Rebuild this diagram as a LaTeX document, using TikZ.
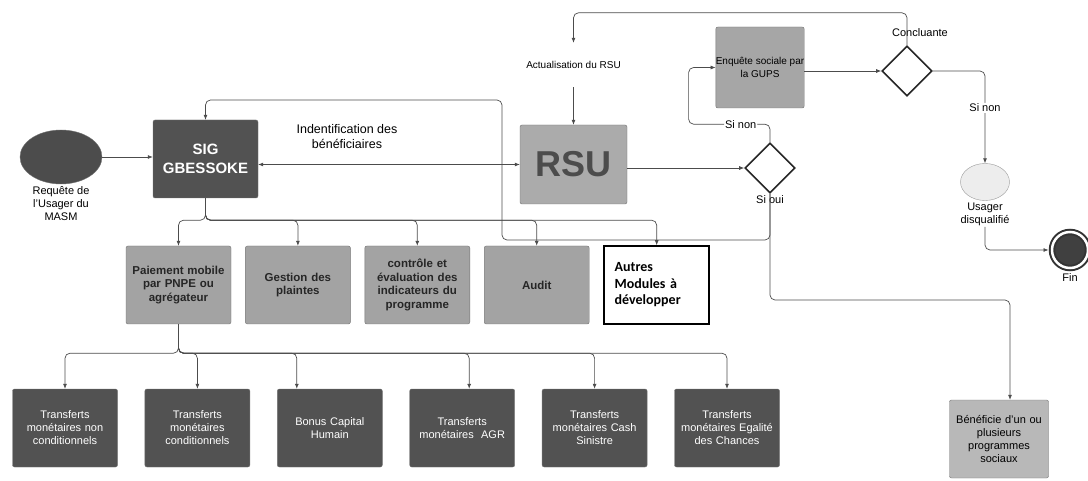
\documentclass[tikz,border=0pt]{standalone}
\usepackage{fontspec}
\setmainfont{Liberation Sans}
\newfontfamily\calibri{Carlito}
\usepackage{tikz}
\usetikzlibrary{shapes.geometric, arrows.meta, positioning, calc}

\begin{document}
\begin{tikzpicture}[
    x=1pt, y=1pt,
    node distance=14pt,
    every node/.style={font=\fontsize{11}{13}\selectfont},
    box/.style={rectangle, draw=black!55, rounded corners=2pt, minimum width=105pt, minimum height=78pt, align=center, inner sep=2pt},
    darkbox/.style={box, fill=black!68, text=white!88, text width=100pt},
    midbox/.style={box, fill=black!36, text=black!85, text width=100pt, font=\fontsize{11.5}{13.5}\selectfont\bfseries},
    decision/.style={diamond, draw=black!85, line width=1.6pt, minimum width=50pt, minimum height=50pt, inner sep=0pt},
    lbl/.style={align=center, inner sep=1pt},
    arrow/.style={-{Latex[length=5pt, width=4pt]}, draw=black!70, line width=0.7pt, rounded corners=5pt}
]
    \useasboundingbox (0,0) rectangle (1088,-481);

    % entree et SIG
    \node[ellipse, draw=black!55, fill=black!70, minimum width=82pt, minimum height=54pt] (requete) at (61,-157) {};
    \node[lbl, below=1pt of requete] (requetelbl) {Requête de\\l'Usager du\\MASM};
    \node[box, fill=black!68, text width=100pt, font=\fontsize{15}{19}\selectfont\bfseries, text=white] (sig) at (205.5,-159) {SIG\\GBESSOKE};
    \node[lbl, font=\fontsize{12.5}{15}\selectfont] (ident) at (347,-137) {Indentification des\\bénéficiaires};

    % RSU et decisions
    \node[box, fill=black!33, minimum width=107pt, minimum height=79pt, font=\fontsize{36}{40}\selectfont\bfseries, text=black!70] (rsu) at (573.5,-164.5) {RSU};
    \node[lbl, minimum height=44pt, font=\fontsize{10}{12}\selectfont] (actu) at (573.5,-65) {Actualisation du RSU};
    \node[box, fill=black!35, minimum width=80pt, minimum height=81pt, inner sep=0pt, font=\fontsize{10}{13}\selectfont] (enq) at (760,-67.5) {Enquête sociale par\\la GUPS};
    \node[decision] (concl) at (907,-71) {};
    \node[lbl] (concllbl) at (920,-33) {Concluante};
    \node[decision] (oui) at (770,-168) {};
    \node[lbl] (ouilbl) at (770,-200) {Si oui};
    \node[ellipse, draw=black!40, fill=black!7, minimum width=49pt, minimum height=37pt] (usager) at (985,-182) {};
    \node[lbl, below=1pt of usager] (usagerlbl) {Usager\\disqualifié};
    \node[circle, draw=black!80, fill=black!75, line width=2pt, double=white, double distance=2.5pt, minimum size=36pt, outer sep=3.5pt] (fin) at (1070,-250) {};
    \node[lbl, below=1pt of fin] (finlbl) {Fin};
    \node[box, fill=black!28, minimum width=98pt, text width=95pt, font=\fontsize{11}{13}\selectfont] (bene) at (999,-439) {Bénéficie d'un ou\\plusieurs\\programmes\\sociaux};

    % modules
    \node[midbox] (paie) at (178.5,-285) {Paiement mobile\\par PNPE ou\\agrégateur};
    \node[midbox, right=of paie] (gest) {Gestion des\\plaintes};
    \node[midbox, right=of gest] (ctrl) {contrôle et\\évaluation des\\indicateurs du\\programme};
    \node[midbox, right=of ctrl] (audit) {Audit};
    \node[rectangle, draw=black, line width=1.6pt, fill=white, minimum width=105pt, minimum height=78pt, text width=84pt, align=left, right=of audit, font=\calibri\fontsize{14}{16.5}\selectfont\bfseries] (autres) {Autres\\Modules à\\développer};

    % transferts
    \node[darkbox] (tnc) at (65,-428) {Transferts\\monétaires non\\conditionnels};
    \node[darkbox, right=27pt of tnc] (tc) {Transferts\\monétaires\\conditionnels};
    \node[darkbox, right=27pt of tc] (bonus) {Bonus Capital\\Humain};
    \node[darkbox, right=27pt of bonus] (agr) {Transferts\\monétaires~~AGR};
    \node[darkbox, right=27pt of agr] (cash) {Transferts\\monétaires Cash\\Sinistre};
    \node[darkbox, right=27pt of cash] (egal) {Transferts\\monétaires Egalité\\des Chances};

    \coordinate (looplow) at (502,-240);
    \coordinate (loophigh) at (502,-100);
    \coordinate (benebend) at (1010,-300);

    \draw[arrow] (requete) -- (sig.west |- requete);
    \draw[arrow, {Latex[length=5pt, width=4pt]}-{Latex[length=5pt, width=4pt]}] (sig.east |- rsu.west) -- (rsu.west);
    \draw[arrow] (actu) -- (rsu);
    \draw[arrow] (rsu.east |- oui) -- (oui);
    \draw[arrow] (oui.north) -- ++(0,18) -| node[pos=0.18, fill=white, inner sep=1pt] {Si non} ([xshift=-27pt]enq.west) -- (enq.west);
    \draw[arrow] (enq.east |- concl) -- (concl);
    \draw[arrow] (concl.north) |- ([yshift=30pt]actu.north) -- (actu.north);
    \draw[arrow] (concl.east) -| node[pos=0.7, fill=white, inner sep=1pt] {Si non} (usager.north);
    \draw[arrow] (usagerlbl.south) |- (fin.west);
    \draw[arrow] (oui.south) |- (looplow) -- (loophigh) -| (sig.north);
    \draw[arrow] (oui.south) |- (benebend) -- (benebend |- bene.north);

    \foreach \m in {paie, gest, ctrl, audit, autres}
        \draw[arrow] (sig.south) -- ++(0,-22) -| (\m.north);
    \foreach \t/\s in {tnc/0, tc/0, bonus/-33, agr/7, cash/0, egal/0}
        \draw[arrow] (paie.south) -- ++(0,-29) -| ([xshift=\s pt]\t.north);
\end{tikzpicture}
\end{document}
